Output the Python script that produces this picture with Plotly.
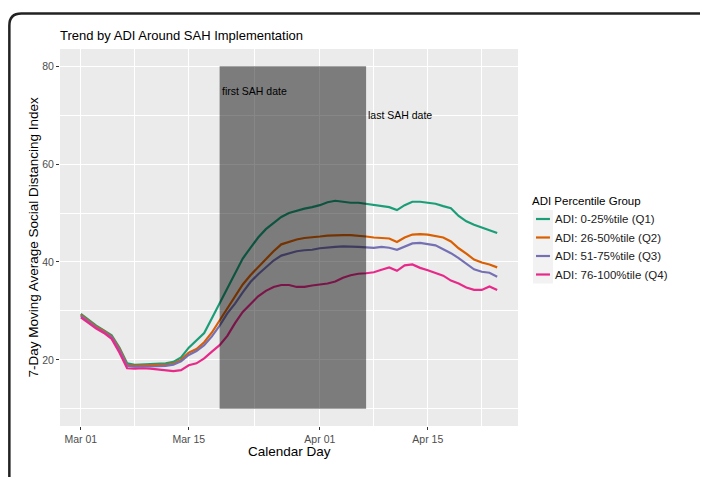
import pandas as pd
import plotly.graph_objects as go

dates = pd.date_range("2020-03-01", "2020-04-24", freq="D")

q1 = [29.4, 28.2, 27.0, 26.0, 25.0, 22.5, 19.3, 19.0, 19.1, 19.1,
      19.2, 19.3, 19.6, 20.5, 22.5, 24.0, 25.5, 28.5, 31.5, 34.5,
      37.8, 40.7, 42.9, 45.0, 46.7, 48.0, 49.2, 50.0, 50.5, 50.9,
      51.2, 51.6, 52.2, 52.5, 52.3, 52.1, 52.1, 51.9, 51.7, 51.5,
      51.2, 50.6, 51.6, 52.3, 52.3, 52.1, 51.9, 51.4, 51.0, 49.4,
      48.3, 47.6, 47.1, 46.5, 45.9]
q2 = [29.2, 28.0, 26.8, 25.9, 24.8, 22.3, 19.0, 18.8, 18.9, 18.9,
      19.0, 19.0, 19.2, 20.0, 21.5, 22.2, 23.6, 25.6, 28.0, 30.6,
      33.0, 35.4, 37.3, 39.0, 40.6, 42.2, 43.6, 44.1, 44.6, 44.9,
      45.0, 45.2, 45.4, 45.5, 45.5, 45.5, 45.4, 45.2, 45.0, 44.9,
      44.8, 44.1, 45.0, 45.6, 45.7, 45.6, 45.3, 45.0, 44.2, 42.8,
      41.7, 40.5, 39.9, 39.5, 38.9]
q3 = [29.0, 27.8, 26.6, 25.7, 24.6, 22.0, 18.8, 18.6, 18.6, 18.7,
      18.7, 18.8, 19.0, 19.7, 21.0, 21.8, 23.0, 24.8, 27.0, 29.5,
      31.5, 33.8, 35.9, 37.5, 39.0, 40.3, 41.3, 41.8, 42.2, 42.4,
      42.5, 42.8, 43.0, 43.1, 43.2, 43.2, 43.1, 43.0, 42.9, 43.1,
      42.9, 42.5, 43.2, 43.8, 43.9, 43.7, 43.4, 42.6, 41.8, 40.8,
      39.6, 38.5, 38.0, 37.8, 37.0]
q4 = [28.7, 27.5, 26.4, 25.5, 24.3, 21.5, 18.3, 18.2, 18.3, 18.2,
      18.0, 17.8, 17.7, 17.9, 18.9, 19.3, 20.3, 21.7, 23.0, 24.9,
      27.5, 29.8, 31.5, 33.0, 34.1, 34.9, 35.3, 35.3, 34.9, 34.9,
      35.2, 35.4, 35.6, 36.0, 36.8, 37.3, 37.6, 37.7, 37.9, 38.4,
      38.9, 38.2, 39.3, 39.5, 38.8, 38.3, 37.8, 37.2, 36.2, 35.6,
      34.8, 34.3, 34.3, 35.0, 34.3]

series_names = ["ADI: 0-25%tile (Q1)", "ADI: 26-50%tile (Q2)",
                "ADI: 51-75%tile (Q3)", "ADI: 76-100%tile (Q4)"]
series_values = [q1, q2, q3, q4]
colors = ["#1B9E77", "#D95F02", "#7570B3", "#E7298A"]
legend_title = "ADI Percentile Group"

sah_first = "2020-03-19"
sah_last = "2020-04-07"
sah_ymin, sah_ymax = 10, 80

major_x = ["2020-03-01", "2020-03-15", "2020-04-01", "2020-04-15"]
major_x_text = ["Mar 01", "Mar 15", "Apr 01", "Apr 15"]
minor_x = ["2020-03-08", "2020-03-23 12:00", "2020-04-08", "2020-04-22"]
major_y = [20, 40, 60, 80]
minor_y = [10, 30, 50, 70]

FONT = "Liberation Sans, Arial, sans-serif"

# page offset (browser body margin) and figure size
OFF = 8
W, H = 708 - OFF, 477 - OFF
# panel edges in window pixels
Lw, Rw, Tw, Bw = 60, 518.5, 49, 426
L, R, T, B = Lw - OFF, Rw - OFF, Tw - OFF, Bw - OFF

def px(xw):
    return (xw - OFF - L) / (R - L)
def py(yw):
    return (B - (yw - OFF)) / (B - T)

fig = go.Figure()
for name, vals, col in zip(series_names, series_values, colors):
    fig.add_trace(go.Scatter(x=dates, y=vals, mode="lines", name=name,
                             line=dict(color=col, width=2.2), showlegend=False))

# SAH window rectangle
fig.add_shape(type="rect", xref="x", yref="y", x0=sah_first, x1=sah_last,
              y0=sah_ymin, y1=sah_ymax, fillcolor="rgba(0,0,0,0.47)",
              line=dict(width=0), layer="above")

fig.add_annotation(x=sah_first, y=75, xref="x", yref="y", text="first SAH date",
                   showarrow=False, xanchor="left", yanchor="middle",
                   font=dict(size=10.5, color="black", family=FONT))
fig.add_annotation(x=sah_last, y=70, xref="x", yref="y", text="last SAH date",
                   showarrow=False, xanchor="left", yanchor="middle",
                   font=dict(size=10.5, color="black", family=FONT))

# Title
fig.add_annotation(x=px(58), y=py(36), xref="paper", yref="paper",
                   text="Trend by ADI Around SAH Implementation",
                   showarrow=False, xanchor="left", yanchor="middle",
                   font=dict(size=13, color="black", family=FONT))

# Axis titles
fig.add_annotation(x=0.5, y=py(452), xref="paper", yref="paper",
                   text="Calendar Day", showarrow=False, xanchor="center",
                   yanchor="middle", font=dict(size=13.5, color="black", family=FONT))
fig.add_annotation(x=px(33), y=0.5, xref="paper", yref="paper",
                   text="7-Day Moving Average Social Distancing Index",
                   showarrow=False, xanchor="center", yanchor="middle", textangle=-90,
                   font=dict(size=13.5, color="black", family=FONT))

# Figure frame (rounded border)
x0, xr = px(OFF + 1.3), px(720)
y0, yb = py(13.5), py(490)
rx, ry = 12 / (R - L), 12 / (B - T)
path = (f"M {x0},{yb} L {x0},{y0 - ry} Q {x0},{y0} {x0 + rx},{y0} L {xr},{y0}")
fig.add_shape(type="path", xref="paper", yref="paper", path=path,
              line=dict(color="#222222", width=2.5))

# Manual legend
fig.add_annotation(x=px(531), y=py(201), xref="paper", yref="paper",
                   text=legend_title, showarrow=False, xanchor="left",
                   yanchor="middle", font=dict(size=11.5, color="black", family=FONT))
fig.add_shape(type="rect", xref="paper", yref="paper",
              x0=px(533.5), x1=px(553.5), y0=py(283.5), y1=py(210),
              fillcolor="#F2F2F2", line=dict(width=0), layer="below")
key_y = [219, 237.5, 256, 274.5]
for name, col, ky in zip(series_names, colors, key_y):
    fig.add_shape(type="line", xref="paper", yref="paper",
                  x0=px(536.5), x1=px(550.5), y0=py(ky), y1=py(ky),
                  line=dict(color=col, width=2.2))
    fig.add_annotation(x=px(554), y=py(ky), xref="paper", yref="paper",
                       text=name, showarrow=False, xanchor="left",
                       yanchor="middle", font=dict(size=11.5, color="#1a1a1a", family=FONT))

x_start = pd.Timestamp("2020-03-01") - pd.Timedelta(days=2.7)
x_end = pd.Timestamp("2020-04-24") + pd.Timedelta(days=2.7)

fig.update_layout(
    width=W, height=H, autosize=False,
    paper_bgcolor="white", plot_bgcolor="#EBEBEB",
    margin=dict(l=L, r=W - R, t=T, b=H - B, pad=0, autoexpand=False),
    font=dict(family=FONT, color="black"),
    showlegend=False,
    xaxis=dict(range=[x_start, x_end], tickmode="array", tickvals=major_x,
               ticktext=major_x_text, showgrid=True, gridcolor="white",
               gridwidth=1.1, zeroline=False, showline=False, automargin=False,
               ticks="outside", ticklen=3, tickcolor="#333333", tickwidth=1,
               tickfont=dict(size=10.5, color="#4D4D4D"),
               minor=dict(tickvals=minor_x, showgrid=True, gridcolor="white",
                          gridwidth=0.5, ticks="")),
    yaxis=dict(range=[6.5, 83.5], tickmode="array", tickvals=major_y,
               showgrid=True, gridcolor="white", gridwidth=1.1,
               zeroline=False, showline=False, automargin=False,
               ticks="outside", ticklen=3, tickcolor="#333333", tickwidth=1,
               tickfont=dict(size=10.5, color="#4D4D4D"),
               minor=dict(tickvals=minor_y, showgrid=True, gridcolor="white",
                          gridwidth=0.5, ticks="")),
)

fig.write_html("out.html")
